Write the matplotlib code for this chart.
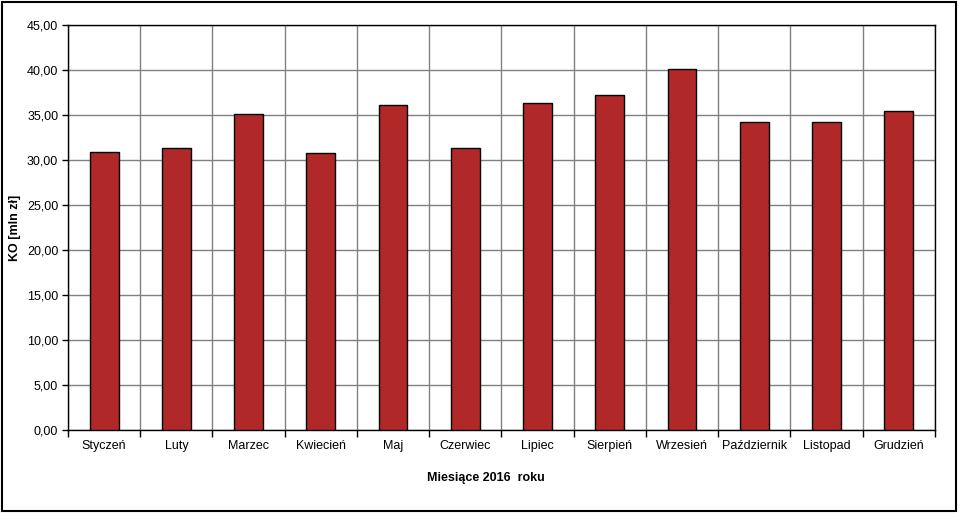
import numpy as np
import matplotlib.pyplot as plt
from matplotlib.patches import Rectangle
from matplotlib.ticker import FuncFormatter, MultipleLocator

plt.rcParams["font.family"] = ["Liberation Sans", "DejaVu Sans"]

months = ["Styczeń", "Luty", "Marzec", "Kwiecień", "Maj", "Czerwiec",
          "Lipiec", "Sierpień", "Wrzesień", "Październik", "Listopad", "Grudzień"]
values = [30.85, 31.3, 35.07, 30.75, 36.1, 31.3,
          36.3, 37.18, 40.15, 34.18, 34.18, 35.4]

fig = plt.figure(figsize=(9.6, 5.21), dpi=100)
ax = fig.add_axes([0.0708, 0.1747, 0.903, 0.7773])

x = np.arange(len(months))
ax.bar(x, values, width=0.4, color="#B02828", edgecolor="black", linewidth=1, zorder=3)

ax.set_xlim(-0.5, len(months) - 0.5)
ax.set_ylim(0, 45)
ax.yaxis.set_major_locator(MultipleLocator(5))
ax.yaxis.set_major_formatter(FuncFormatter(lambda v, p: f"{v:.2f}".replace(".", ",")))

ax.set_xticks(x)
ax.set_xticklabels(months)
ax.set_xticks(np.arange(-0.5, len(months)), minor=True)
ax.tick_params(axis="x", which="major", length=0, pad=7, labelsize=9)
ax.tick_params(axis="x", which="minor", length=5, width=1, direction="out")
ax.tick_params(axis="y", length=4, width=1, labelsize=9, pad=3)

ax.grid(True, axis="y", which="major", color="#808080", linewidth=1, zorder=0)
ax.grid(True, axis="x", which="minor", color="#808080", linewidth=1, zorder=0)
for s in ax.spines.values():
    s.set_color("black")
    s.set_linewidth(1)

fig.text(15 / 960, 1 - 228 / 521, "KO [mln zł]", rotation=90, ha="center", va="center",
         fontsize=9, fontweight="bold")
fig.text(486 / 960, 1 - 478 / 521, "Miesiące 2016  roku", ha="center", va="center",
         fontsize=9, fontweight="bold")

fig.patches.append(Rectangle((0.002, 0.02), 0.994, 0.976, transform=fig.transFigure,
                             fill=False, edgecolor="black", linewidth=1.5))

fig.savefig("out.png", dpi=100)
